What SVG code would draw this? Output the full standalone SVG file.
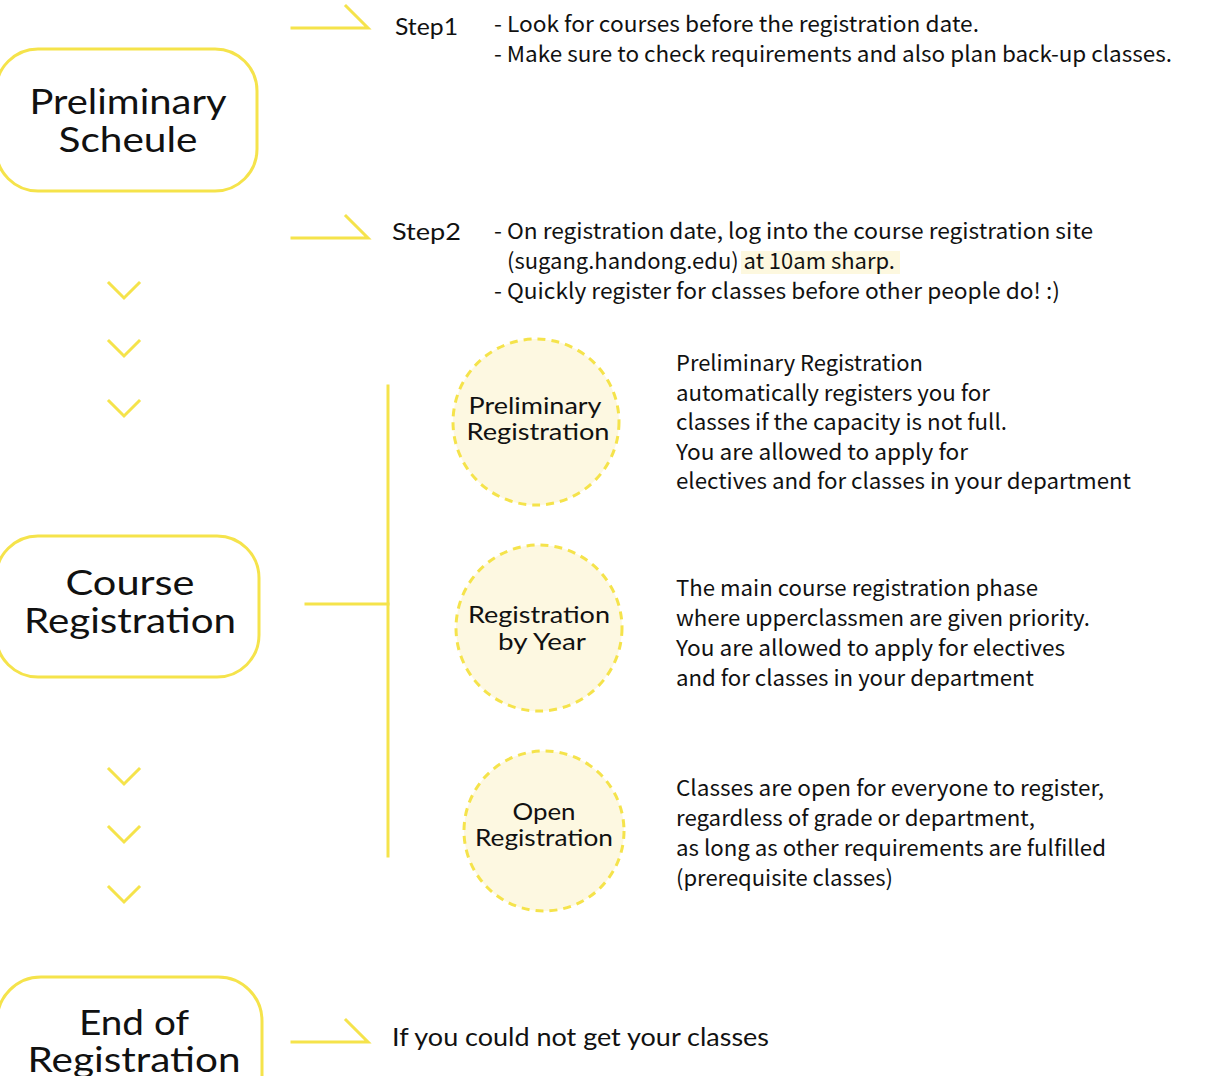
<svg xmlns="http://www.w3.org/2000/svg" width="1208" height="1076" viewBox="0 0 1208 1076">
<style>
.box{fill:#fff;stroke:#F5E34B;stroke-width:3}
.circ{fill:#FDF8E1;stroke:#F5E34B;stroke-width:3;stroke-dasharray:8 6}
.ln{fill:none;stroke:#F5E34B;stroke-width:3;stroke-linecap:square}
.title{font-family:Lato,"Noto Sans",sans-serif;font-size:34px;fill:#111;text-anchor:middle}
.ctext{font-family:Lato,"Noto Sans",sans-serif;font-size:23px;fill:#111;text-anchor:middle}
.step{font-family:Lato,"Noto Sans",sans-serif;font-size:24px;fill:#111}
.desc{font-family:"Noto Sans CJK KR","Noto Sans",sans-serif;font-size:22px;fill:#111}
</style>
<rect width="1208" height="1076" fill="#fff"/>
<g id="connectors">
<path class="ln" d="M292 28H368L346 6"/>
<path class="ln" d="M292 238H368L346 216"/>
<path class="ln" d="M292 1042H368L346 1020"/>
<path class="ln" d="M109 283L124 298L139 283"/>
<path class="ln" d="M109 341L124 356L139 341"/>
<path class="ln" d="M109 401L124 416L139 401"/>
<path class="ln" d="M109 769L124 784L139 769"/>
<path class="ln" d="M109 827L124 842L139 827"/>
<path class="ln" d="M109 887L124 902L139 887"/>
<path class="ln" d="M388 386V856"/>
<path class="ln" d="M306 604H388"/>
</g>
<g id="node-preliminary-schedule">
<rect class="box" x="-4" y="49" width="261" height="142" rx="42"/>
<text class="title" x="128" y="114" textLength="197" lengthAdjust="spacingAndGlyphs">Preliminary</text>
<text class="title" x="128" y="152" textLength="139" lengthAdjust="spacingAndGlyphs">Scheule</text>
</g>
<g id="node-step1">
<text class="step" x="395" y="35" textLength="63" lengthAdjust="spacingAndGlyphs">Step1</text>
<text class="desc" x="494" y="32" textLength="485" lengthAdjust="spacingAndGlyphs">- Look for courses before the registration date.</text>
<text class="desc" x="494" y="62" textLength="678" lengthAdjust="spacingAndGlyphs">- Make sure to check requirements and also plan back-up classes.</text>
</g>
<g id="node-step2">
<rect x="741" y="251" width="159" height="23" fill="#FDF8DF"/>
<text class="step" x="392" y="240" textLength="69" lengthAdjust="spacingAndGlyphs">Step2</text>
<text class="desc" x="494" y="239" textLength="599" lengthAdjust="spacingAndGlyphs">- On registration date, log into the course registration site</text>
<text class="desc" x="507" y="269" textLength="388" lengthAdjust="spacingAndGlyphs">(sugang.handong.edu) at 10am sharp.</text>
<text class="desc" x="494" y="299" textLength="566" lengthAdjust="spacingAndGlyphs">- Quickly register for classes before other people do! :)</text>
</g>
<g id="node-course-registration">
<rect class="box" x="-4" y="536" width="263" height="141" rx="42"/>
<text class="title" x="130" y="595" textLength="129" lengthAdjust="spacingAndGlyphs">Course</text>
<text class="title" x="130" y="633" textLength="212" lengthAdjust="spacingAndGlyphs">Registration</text>
</g>
<g id="node-preliminary-registration">
<circle class="circ" cx="536" cy="422" r="83"/>
<text class="ctext" x="535" y="414" textLength="133" lengthAdjust="spacingAndGlyphs">Preliminary</text>
<text class="ctext" x="538" y="440" textLength="143" lengthAdjust="spacingAndGlyphs">Registration</text>
<text class="desc" x="676" y="371" textLength="247" lengthAdjust="spacingAndGlyphs">Preliminary Registration</text>
<text class="desc" x="676" y="401" textLength="314" lengthAdjust="spacingAndGlyphs">automatically registers you for</text>
<text class="desc" x="676" y="430" textLength="331" lengthAdjust="spacingAndGlyphs">classes if the capacity is not full.</text>
<text class="desc" x="676" y="460" textLength="292" lengthAdjust="spacingAndGlyphs">You are allowed to apply for</text>
<text class="desc" x="676" y="489" textLength="455" lengthAdjust="spacingAndGlyphs">electives and for classes in your department</text>
</g>
<g id="node-registration-by-year">
<circle class="circ" cx="539" cy="628" r="83"/>
<text class="ctext" x="539" y="623" textLength="142" lengthAdjust="spacingAndGlyphs">Registration</text>
<text class="ctext" x="542" y="650" textLength="88" lengthAdjust="spacingAndGlyphs">by Year</text>
<text class="desc" x="676" y="596" textLength="362" lengthAdjust="spacingAndGlyphs">The main course registration phase</text>
<text class="desc" x="676" y="626" textLength="414" lengthAdjust="spacingAndGlyphs">where upperclassmen are given priority.</text>
<text class="desc" x="676" y="656" textLength="389" lengthAdjust="spacingAndGlyphs">You are allowed to apply for electives</text>
<text class="desc" x="676" y="686" textLength="358" lengthAdjust="spacingAndGlyphs">and for classes in your department</text>
</g>
<g id="node-open-registration">
<circle class="circ" cx="544" cy="831" r="80"/>
<text class="ctext" x="544" y="820" textLength="63" lengthAdjust="spacingAndGlyphs">Open</text>
<text class="ctext" x="544" y="846" textLength="138" lengthAdjust="spacingAndGlyphs">Registration</text>
<text class="desc" x="676" y="796" textLength="428" lengthAdjust="spacingAndGlyphs">Classes are open for everyone to register,</text>
<text class="desc" x="676" y="826" textLength="359" lengthAdjust="spacingAndGlyphs">regardless of grade or department,</text>
<text class="desc" x="676" y="856" textLength="430" lengthAdjust="spacingAndGlyphs">as long as other requirements are fulfilled</text>
<text class="desc" x="676" y="886" textLength="217" lengthAdjust="spacingAndGlyphs">(prerequisite classes)</text>
</g>
<g id="node-end-of-registration">
<rect class="box" x="-3" y="977" width="265" height="160" rx="44"/>
<text class="title" x="134" y="1035" textLength="110" lengthAdjust="spacingAndGlyphs">End of</text>
<text class="title" x="134" y="1072" textLength="213" lengthAdjust="spacingAndGlyphs">Registration</text>
<text class="step" x="392" y="1046" textLength="377" lengthAdjust="spacingAndGlyphs" style="font-size:25px">If you could not get your classes</text>
</g>
</svg>
